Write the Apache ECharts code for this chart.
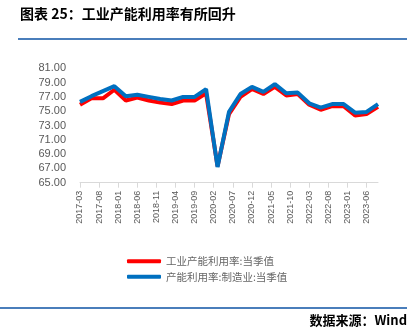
<!DOCTYPE html>
<html>
<head>
<meta charset="utf-8">
<script src="https://cdn.jsdelivr.net/npm/echarts@6/dist/echarts.min.js"></script>
<style>
html,body{margin:0;padding:0;background:#fff;}
#c{width:413px;height:336px;}
</style>
</head>
<body>
<div id="c"></div>
<script>
// Quarterly observation months
var quarters = ['2017-03','2017-06','2017-09','2017-12','2018-03','2018-06','2018-09','2018-12',
  '2019-03','2019-06','2019-09','2019-12','2020-03','2020-06','2020-09','2020-12',
  '2021-03','2021-06','2021-09','2021-12','2022-03','2022-06','2022-09','2022-12',
  '2023-03','2023-06','2023-09'];
var industrial = [75.9,76.8,76.8,78.0,76.5,76.9,76.5,76.2,
  76.0,76.5,76.5,77.5,67.3,74.6,77.0,78.1,
  77.4,78.4,77.2,77.4,75.9,75.2,75.7,75.7,
  74.4,74.6,75.6];
var manufacturing = [76.3,77.1,77.8,78.5,77.1,77.3,77.0,76.7,
  76.5,77.0,77.0,78.1,67.2,74.9,77.4,78.4,
  77.7,78.8,77.5,77.6,76.1,75.5,76.0,76.0,
  74.8,74.9,76.0];
var yTicks = {min:65, max:81, interval:2};
var seriesNames = ['工业产能利用率:当季值','产能利用率:制造业:当季值'];

// monthly category axis (2017-03 .. 2023-09)
var months = [];
for (var y = 2017; y <= 2023; y++) {
  for (var m = 1; m <= 12; m++) {
    var s = y + '-' + (m < 10 ? '0' + m : m);
    if (s >= '2017-03' && s <= '2023-09') months.push(s);
  }
}
function toMonthly(vals) {
  return months.map(function (mm) {
    var i = quarters.indexOf(mm);
    return i >= 0 ? vals[i] : null;
  });
}

var chart = echarts.init(document.getElementById('c'), null, {renderer:'canvas'});
chart.setOption({
  animation:false,
  backgroundColor:'#fff',
  graphic:[
    {type:'text', left:20, top:7, style:{text:'图表 25：工业产能利用率有所回升', fill:'#000', font:'bold 14px "Noto Sans CJK SC"'}},
    {type:'rect', shape:{x:18, y:38, width:389, height:2}, style:{fill:'#4a7ebb'}},
    {type:'rect', shape:{x:0, y:307, width:407, height:2}, style:{fill:'#4a7ebb'}},
    {type:'text', right:6, top:314, style:{text:'数据来源：Wind', fill:'#000', font:'bold 13px "Noto Sans CJK SC"'}}
  ],
  grid:{left:80, right:35, top:68.3, bottom:153.3, containLabel:false},
  legend:{
    orient:'vertical', left:127, top:256, padding:0, itemWidth:34, itemHeight:4, itemGap:5,
    icon:'roundRect',
    textStyle:{color:'#666666', fontSize:10.5, fontFamily:'"Noto Sans CJK SC"'},
    data:seriesNames
  },
  xAxis:{
    type:'category', data:months, boundaryGap:false,
    axisLine:{lineStyle:{color:'#d9d9d9', width:1}},
    axisTick:{show:true, interval:4, length:5, lineStyle:{color:'#d9d9d9'}},
    axisLabel:{interval:4, rotate:90, color:'#595959', fontSize:9, fontFamily:'"Liberation Sans"', margin:8}
  },
  yAxis:{
    type:'value', min:yTicks.min, max:yTicks.max, interval:yTicks.interval,
    axisLine:{show:false}, axisTick:{show:false}, splitLine:{show:false},
    axisLabel:{color:'#595959', fontSize:11, fontFamily:'"Liberation Sans"', margin:14,
      formatter:function(v){return v.toFixed(2);}}
  },
  series:[
    {name:seriesNames[0], type:'line', data:toMonthly(industrial), connectNulls:true, showSymbol:false,
     lineStyle:{color:'#ff0000', width:4}, itemStyle:{color:'#ff0000'}},
    {name:seriesNames[1], type:'line', data:toMonthly(manufacturing), connectNulls:true, showSymbol:false,
     lineStyle:{color:'#0070c0', width:4}, itemStyle:{color:'#0070c0'}}
  ]
});
</script>
</body>
</html>
